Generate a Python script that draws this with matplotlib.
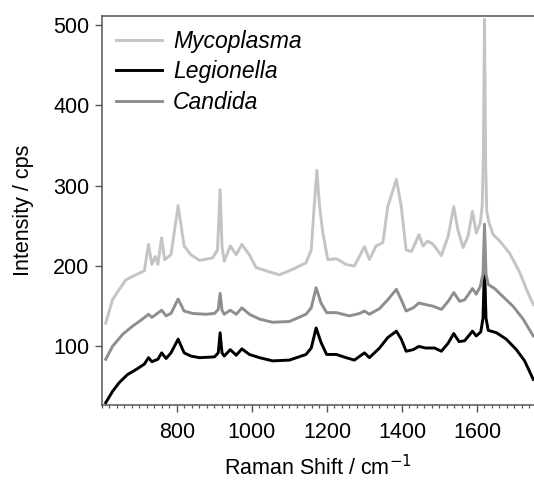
import matplotlib
matplotlib.use('Agg')
import matplotlib.pyplot as plt
from matplotlib.ticker import MultipleLocator

plt.rcParams['font.family'] = ['Liberation Sans', 'DejaVu Sans']

# Raman spectra, values (cm-1, cps)
myco_x = [610, 628, 646, 664, 690, 713, 724, 733, 742, 749, 759, 767, 784, 803, 819, 837,
          860, 895, 908, 915, 920, 926, 942, 958, 973, 993, 1011, 1038, 1073, 1109, 1144, 1158,
          1166, 1173, 1180, 1189, 1202, 1225, 1251, 1273, 1300, 1313, 1331, 1349, 1362, 1371,
          1385, 1398, 1411, 1425, 1434, 1445, 1456, 1469, 1483, 1505, 1523, 1538, 1549, 1563,
          1576, 1588, 1598, 1609, 1614, 1617, 1620, 1623, 1626, 1632, 1643, 1661, 1687, 1714,
          1732, 1750]
myco_y = [129, 158, 171, 183, 189, 194, 227, 202, 212, 202, 235, 208, 214, 275, 225, 214,
          207, 210, 220, 295, 225, 206, 225, 214, 227, 214, 198, 194, 189, 196, 204, 220,
          275, 319, 275, 241, 208, 209, 202, 200, 224, 208, 225, 229, 274, 287,
          308, 274, 220, 218, 227, 239, 225, 231, 227, 213, 237, 274, 245, 223,
          237, 268, 241, 254, 275, 340, 507, 330, 268, 254, 239, 231, 216, 192,
          171, 152]

legio_x = [610, 628, 646, 668, 690, 713, 724, 733, 749, 759, 771, 784, 803, 819, 837, 860,
           900, 910, 915, 920, 926, 942, 958, 973, 993, 1020, 1055, 1100, 1144, 1158, 1171,
           1184, 1199, 1225, 1251, 1273, 1300, 1313, 1340, 1362, 1385, 1398, 1411, 1430, 1445,
           1463, 1487, 1505, 1523, 1538, 1552, 1567, 1588, 1598, 1610, 1616, 1620, 1624, 1630,
           1652, 1678, 1705, 1727, 1750]
legio_y = [30, 44, 55, 65, 71, 78, 86, 81, 84, 92, 85, 92, 109, 92, 88, 86,
           87, 92, 117, 92, 88, 96, 89, 97, 90, 86, 82, 83, 90, 98, 123,
           105, 90, 90, 86, 83, 92, 86, 98, 111, 119, 109, 94, 96, 100,
           98, 98, 94, 104, 116, 106, 107, 119, 113, 118, 135, 202, 135, 120,
           117, 109, 96, 82, 59]

cand_x = [610, 628, 655, 681, 708, 724, 733, 759, 771, 784, 803, 819, 842, 877, 900, 910,
          915, 920, 926, 942, 958, 973, 993, 1020, 1055, 1100, 1144, 1158, 1171, 1184, 1199,
          1225, 1260, 1287, 1300, 1313, 1340, 1362, 1385, 1398, 1411, 1430, 1445, 1463, 1483,
          1505, 1523, 1538, 1554, 1567, 1588, 1598, 1609, 1616, 1620, 1624, 1630, 1647, 1669,
          1696, 1723, 1750]
cand_y = [84, 100, 115, 125, 134, 140, 136, 145, 138, 141, 159, 144, 141, 140, 141, 146,
          166, 145, 140, 145, 140, 148, 140, 134, 130, 131, 140, 148, 173, 154, 142,
          142, 138, 141, 144, 140, 147, 158, 171, 158, 144, 148, 154, 152, 150,
          146, 156, 167, 156, 158, 172, 165, 175, 190, 252, 190, 177, 172, 162,
          150, 134, 113]

names = ['Mycoplasma', 'Legionella', 'Candida']
colors = ['#c4c4c4', '#000000', '#8e8e8e']

fig = plt.figure(figsize=(5.34, 4.84), dpi=100)
ax = fig.add_axes([0.191, 0.163, 0.809, 0.804])

ax.plot(myco_x, myco_y, color=colors[0], lw=2.1, label=names[0])
ax.plot(legio_x, legio_y, color=colors[1], lw=2.1, label=names[1])
ax.plot(cand_x, cand_y, color=colors[2], lw=2.1, label=names[2])

ax.set_xlim(600, 1752)
ax.set_ylim(27, 511)

ax.xaxis.set_major_locator(MultipleLocator(200))
ax.xaxis.set_minor_locator(MultipleLocator(20))
ax.set_xticks([800, 1000, 1200, 1400, 1600])
ax.set_yticks([100, 200, 300, 400, 500])

sc = '#555555'
for s in ['left', 'bottom', 'top']:
    ax.spines[s].set_color(sc)
    ax.spines[s].set_linewidth(1.1)
ax.spines['right'].set_visible(False)

ax.tick_params(which='major', direction='out', length=5, width=1.0, color=sc,
               labelsize=15.5, pad=4)
ax.tick_params(axis='x', which='major', pad=7)
ax.tick_params(which='minor', direction='out', length=2.5, width=0.9, color=sc)
ax.tick_params(axis='y', which='minor', left=False)

ax.set_xlabel('Raman Shift / cm$^{-1}$', fontsize=15.5, labelpad=9)
ax.set_ylabel('Intensity / cps', fontsize=15.5, labelpad=14)

leg = ax.legend(loc='upper left', bbox_to_anchor=(0.0, 1.0), frameon=False,
                prop={'size': 16.5, 'style': 'italic'}, handlelength=2.0,
                handletextpad=0.5, labelspacing=0.33, borderaxespad=0.2)

fig.savefig('out.png', dpi=100)
